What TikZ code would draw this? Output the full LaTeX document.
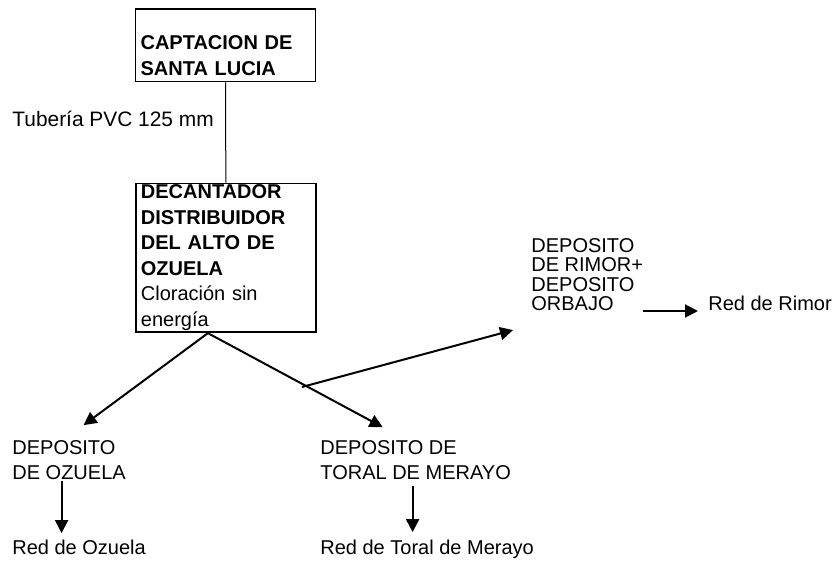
\documentclass[tikz,border=0pt]{standalone}
\usepackage{fontspec}
\setmainfont{Liberation Sans}
\usetikzlibrary{arrows.meta}

\begin{document}
\begin{tikzpicture}[x=0.5pt, y=-0.5pt,
    caja/.style={draw, text width=85pt, inner xsep=2.5pt, align=left, anchor=base west,
        font=\fontsize{10}{12.75}\selectfont},
    texto/.style={inner sep=0pt, align=left, anchor=base west,
        font=\fontsize{10}{12.75}\selectfont},
    flecha/.style={line width=1pt, -{Triangle[length=6.5pt, width=6.5pt]}}]

    \useasboundingbox (0,0) rectangle (837,561);

    % cajas
    \node[caja, line width=0.6pt, inner ysep=3pt, text height=17.5pt] (capt) at (135,50)
        {\textbf{CAPTACION DE\\SANTA LUCIA}};
    \node[caja, line width=0.9pt, inner ysep=0.8pt] (decant) at (135,199)
        {\textbf{DECANTADOR\\DISTRIBUIDOR\\DEL ALTO DE\\OZUELA}\\Cloración sin\\energía};

    % textos (base = ultima linea)
    \node[texto, font=\fontsize{10.45}{12.75}\selectfont] (tubo) at (12,127) {Tubería PVC 125 mm};
    \node[texto] (ozdep) at (12,480) {DEPOSITO\\DE OZUELA};
    \node[texto] (todep) at (320,480) {DEPOSITO DE\\TORAL DE MERAYO};
    \node[texto, font=\fontsize{10}{9.75}\selectfont] (rimdep) at (531,311)
        {DEPOSITO\\DE RIMOR+\\DEPOSITO\\ORBAJO};
    \node[texto] (ozred) at (12,555) {Red de Ozuela};
    \node[texto] (tored) at (320,555) {Red de Toral de Merayo};
    \node[texto] (rimred) at (708,311) {Red de Rimor};

    % puntos de reparto
    \coordinate (reparto) at ([shift={(-18,0)}]decant.south);
    \coordinate (ramal) at (302,387);
    \coordinate (ozsal) at ([shift={(-7.5,0)}]ozdep.south);
    \coordinate (tosal) at ([shift={(-3,0)}]todep.south);

    % conexiones
    \draw[line width=0.5pt] (capt) -- (decant);
    \draw[flecha] (reparto) -- ([shift={(14.5,-15)}]ozdep.north);
    \draw[flecha] (reparto) -- ([shift={(-33,-13)}]todep.north);
    \draw[flecha] (ramal) -- ([shift={(-18,18.5)}]rimdep.south west);
    \draw[flecha, shorten >=5pt] (rimdep.east |- rimred.base) -- (rimred.base west);
    \draw[flecha, shorten >=3.5pt] (ozsal) -- (ozsal |- ozred.north);
    \draw[flecha, shorten <=2.5pt, shorten >=4pt] (tosal) -- (tosal |- tored.north);

\end{tikzpicture}
\end{document}
